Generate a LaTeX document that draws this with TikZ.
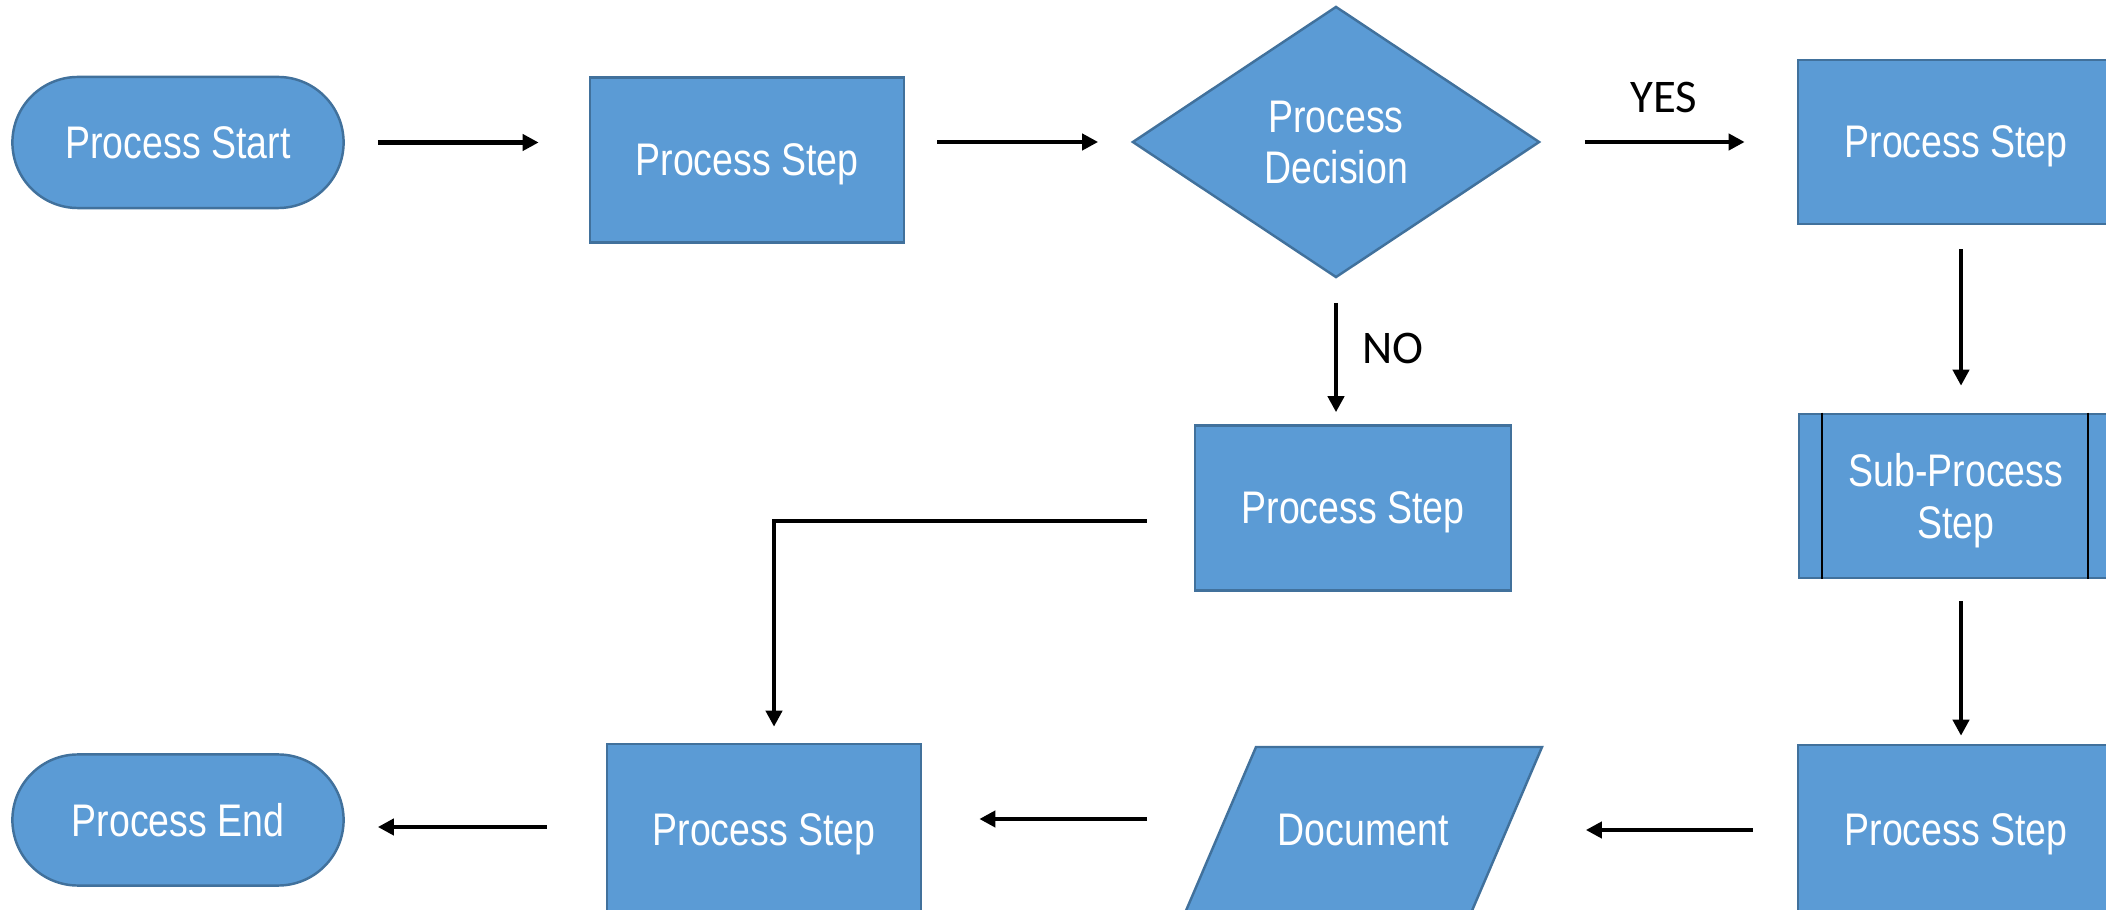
\documentclass[tikz,border=0pt]{standalone}
\usepackage{fontspec}
\setmainfont{Liberation Sans}
\newfontfamily\narrowfont{Liberation Sans}[FakeStretch=0.82]
\newfontfamily\lblfont{Carlito}
\usetikzlibrary{shapes.geometric,arrows.meta}
\definecolor{boxfill}{HTML}{5B9BD5}
\definecolor{boxline}{HTML}{41719C}
\tikzset{
  x=0.01cm, y=-0.01cm,
  boxtext/.style={text=white, font=\narrowfont\fontsize{13}{14.6}\selectfont, align=center, text depth=0pt},
  stepbox/.style={boxtext, rectangle, fill=boxfill, draw=boxline, line width=0.7pt, inner sep=0pt},
  termbox/.style={stepbox, rounded corners=0.655cm, minimum width=3.31cm, minimum height=1.31cm},
  decbox/.style={boxtext, diamond, fill=boxfill, draw=boxline, line width=0.7pt, inner sep=0pt, minimum width=4.07cm, minimum height=2.71cm},
  arr/.style={draw=black, line width=1.15pt, -{Triangle[length=0.16cm,width=0.16cm]}},
  lbl/.style={font=\lblfont\fontsize{13.3}{15}\selectfont, text=black}
}
\begin{document}
\begin{tikzpicture}
\useasboundingbox (0,0) rectangle (2106,910);
\clip (0,0) rectangle (2106,910);

% nodes
\node[termbox] (start) at (178,142.5) {Process Start};
\node[stepbox, minimum width=3.14cm, minimum height=1.65cm] (s1) at (747,160) {Process Step};
\node[decbox] (dec) at (1336,142) {Process\\Decision};
\node[stepbox, minimum width=3.16cm, minimum height=1.64cm] (s2) at (1956,142) {Process Step};
\node[stepbox, minimum width=3.14cm, minimum height=1.64cm] (sub) at (1956,496) {Sub-Process\\Step};
\draw[line width=0.5pt, draw=black] ([xshift=0.24cm]sub.north west) -- ([xshift=0.24cm]sub.south west);
\draw[line width=0.5pt, draw=black] ([xshift=-0.26cm]sub.north east) -- ([xshift=-0.26cm]sub.south east);
\node[stepbox, minimum width=3.16cm, minimum height=1.70cm] (s3) at (1956,830) {Process Step};
\path[fill=boxfill, draw=boxline, line width=0.7pt] (1185,913) -- (1256,747) -- (1542,747) -- (1471,913) -- cycle;
\node[boxtext, minimum width=2.86cm, minimum height=1.66cm, inner sep=0pt] (doc) at (1363,830) {Document};
\node[stepbox, minimum width=3.16cm, minimum height=1.65cm] (s4) at (1353,508) {Process Step};
\node[stepbox, minimum width=3.14cm, minimum height=1.72cm] (s5) at (764,830) {Process Step};
\node[termbox] (end) at (178,820) {Process End};

% connectors
\draw[arr, shorten <=0.33cm, shorten >=0.50cm] (start.east) -- (start.east -| s1.west);
\draw[arr, shorten <=0.32cm, shorten >=0.33cm] (s1.east |- dec.west) -- (dec.west);
\draw[arr, shorten <=0.44cm, shorten >=0.52cm] (dec.east) -- (s2.west);
\node[lbl] (yes) at (1664,97) {YES};
\draw[arr, shorten <=0.24cm, shorten >=0.27cm] ([xshift=0.05cm]s2.south) -- ([xshift=0.05cm]sub.north);
\draw[arr, shorten <=0.22cm, shorten >=0.08cm] ([xshift=0.05cm]sub.south) -- ([xshift=0.05cm]s3.north);
\draw[arr, shorten <=0.24cm, shorten >=0.12cm] (dec.south) -- (dec.south |- s4.north);
\node[lbl] (no) at (1393,348) {NO};
\draw[arr, shorten <=0.44cm, shorten >=0.79cm] (s3.west) -- (s3.west -| doc.east);
\draw[arr, shorten <=0.72cm, shorten >=0.57cm] ([yshift=0.11cm]doc.west) -- ([yshift=0.11cm]doc.west -| s5.east);
\draw[arr, shorten <=0.59cm, shorten >=0.33cm] ([yshift=0.03cm]s5.west) -- ([yshift=0.03cm]s5.west -| end.east);
\draw[arr, line join=miter, shorten <=0.47cm, shorten >=0.16cm] ([yshift=-0.13cm]s4.west) -| ([xshift=0.10cm]s5.north);
\end{tikzpicture}
\end{document}
